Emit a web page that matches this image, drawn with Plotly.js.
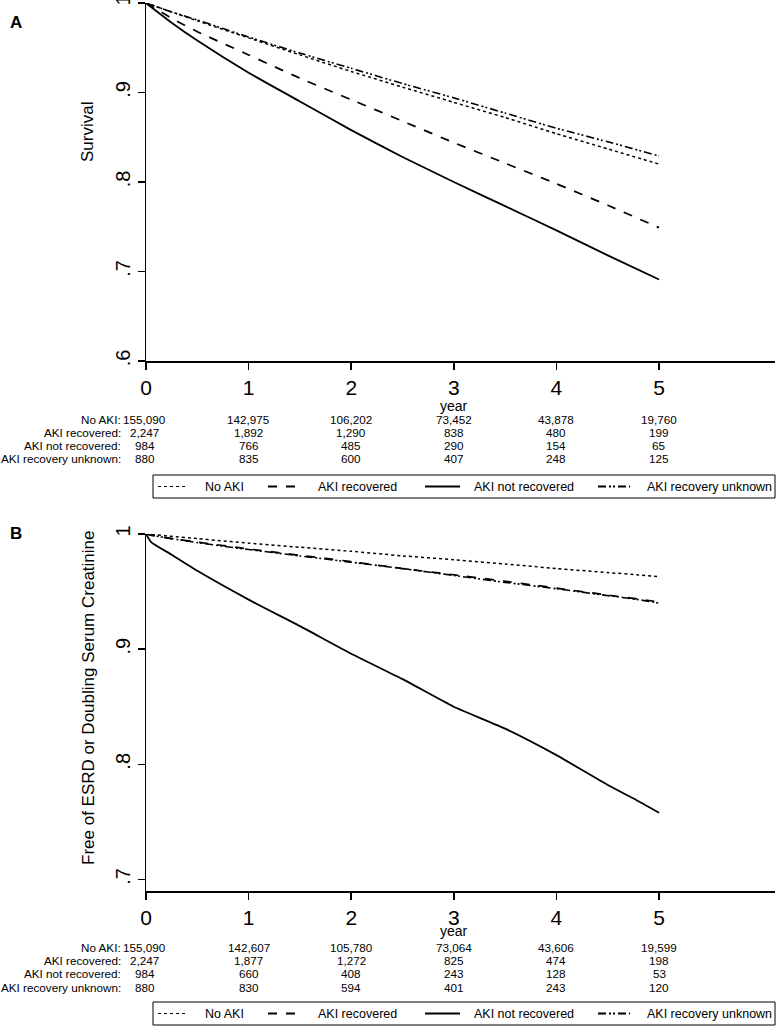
<!DOCTYPE html>
<html>
<head>
<meta charset="utf-8">
<script src="https://cdn.plot.ly/plotly-3.0.1.min.js"></script>
<style>html,body{margin:0;padding:0;background:#fff;}#chart{width:777px;height:1034px;}</style>
</head>
<body>
<div id="chart"></div>
<script>
// ---------- data ----------
const seriesNames = ["No AKI", "AKI recovered", "AKI not recovered", "AKI recovery unknown"];
const riskLabels = ["No AKI:", "AKI recovered:", "AKI not recovered:", "AKI recovery unknown:"];
const yearTicks = [0, 1, 2, 3, 4, 5];

// Panel A: survival
const timeA = [0, 0.25, 0.5, 1, 1.5, 2, 2.5, 3, 3.5, 4, 4.5, 5];
const survNoAKI      = [1, 0.990, 0.980, 0.961, 0.942, 0.9235, 0.906, 0.889, 0.872, 0.854, 0.837, 0.820];
const survRecovered  = [1, 0.983, 0.968, 0.942, 0.916, 0.892, 0.868, 0.844, 0.821, 0.798, 0.774, 0.749];
const survNotRecov   = [1, 0.978, 0.958, 0.922, 0.890, 0.858, 0.828, 0.800, 0.773, 0.746, 0.718, 0.691];
const survUnknown    = [1, 0.990, 0.981, 0.962, 0.944, 0.927, 0.910, 0.894, 0.877, 0.860, 0.845, 0.829];

// Panel B: free of ESRD or doubling serum creatinine
const timeB = [0, 0.05, 0.25, 0.5, 1, 1.5, 2, 2.5, 3, 3.5, 4, 4.5, 4.8, 5];
const freeNoAKI      = [1, 0.9996, 0.998, 0.996, 0.992, 0.9885, 0.985, 0.981, 0.9777, 0.974, 0.970, 0.9665, 0.9645, 0.963];
const freeRecovered  = [1, 0.999, 0.996, 0.993, 0.987, 0.9815, 0.976, 0.970, 0.9646, 0.959, 0.953, 0.947, 0.9435, 0.941];
const freeNotRecov   = [1, 0.993, 0.982, 0.968, 0.943, 0.920, 0.896, 0.874, 0.850, 0.831, 0.808, 0.782, 0.768, 0.758];
const freeUnknown    = [1, 0.999, 0.996, 0.9925, 0.9865, 0.981, 0.9755, 0.970, 0.964, 0.958, 0.9525, 0.9465, 0.943, 0.940];

// Numbers at risk
const riskA_noAKI   = [155090, 142975, 106202, 73452, 43878, 19760];
const riskA_rec     = [2247, 1892, 1290, 838, 480, 199];
const riskA_notrec  = [984, 766, 485, 290, 154, 65];
const riskA_unk     = [880, 835, 600, 407, 248, 125];
const riskB_noAKI   = [155090, 142607, 105780, 73064, 43606, 19599];
const riskB_rec     = [2247, 1877, 1272, 825, 474, 198];
const riskB_notrec  = [984, 660, 408, 243, 128, 53];
const riskB_unk     = [880, 830, 594, 401, 243, 120];

const yTicksA = [0.6, 0.7, 0.8, 0.9, 1];
const yTextA  = [".6", ".7", ".8", ".9", "1"];
const yTicksB = [0.7, 0.8, 0.9, 1];
const yTextB  = [".7", ".8", ".9", "1"];

// ---------- styling ----------
const W = 777, H = 1034;
const dashes = ["dot", "dash", "solid", "8px,3px,2px,2px,2px,3px"];
const widths = [1.5, 1.7, 1.8, 1.6];
const FONT = "Liberation Sans, Arial, sans-serif";
const SMALL = 11.7;
const px = p => p / W;
const py = p => 1 - p / H;

const traces = [];
const seriesA = [survNoAKI, survRecovered, survNotRecov, survUnknown];
const seriesB = [freeNoAKI, freeRecovered, freeNotRecov, freeUnknown];
seriesA.forEach((ys, i) => traces.push({
  x: timeA, y: ys, xaxis: "x", yaxis: "y", mode: "lines", name: seriesNames[i],
  line: {color: "#000", width: widths[i], dash: dashes[i], shape: "spline", smoothing: 0.5},
  showlegend: false, hoverinfo: "skip"
}));
seriesB.forEach((ys, i) => traces.push({
  x: timeB, y: ys, xaxis: "x2", yaxis: "y2", mode: "lines", name: seriesNames[i],
  line: {color: "#000", width: widths[i], dash: dashes[i], shape: "spline", smoothing: 0.5},
  showlegend: false, hoverinfo: "skip"
}));

const xDomain = [px(146), px(775)];
const xRange = [0, 6.13];
const axisCommon = {
  showline: true, linecolor: "#000", linewidth: 1.5, ticks: "outside", ticklen: 7,
  tickwidth: 1.5, tickcolor: "#000", showgrid: false, zeroline: false, fixedrange: true,
  ticklabeloverflow: "allow"
};
const xCommon = Object.assign({}, axisCommon, {
  domain: xDomain, range: xRange, tickvals: yearTicks, ticktext: yearTicks.map(String),
  tickfont: {family: FONT, size: 21, color: "#000"}
});
const yCommon = Object.assign({}, axisCommon, {
  tickangle: -90, tickfont: {family: FONT, size: 20, color: "#000"}
});

const annotations = [];
const shapes = [];
function addText(text, x, xref, yPx, opts) {
  annotations.push(Object.assign({
    text: text, x: x, xref: xref, y: py(yPx), yref: "paper", showarrow: false,
    xanchor: "center", yanchor: "middle", font: {family: FONT, size: SMALL, color: "#000"}
  }, opts || {}));
}

function buildPanel(xref, rows, rowY, yearY, legendTop, letter, letterY, ytitle, ytitleY) {
  addText("<b>" + letter + "</b>", px(8), "paper", letterY, {xanchor: "left", font: {family: FONT, size: 17, color: "#000"}});
  addText(ytitle, px(88), "paper", ytitleY, {textangle: -90, font: {family: FONT, size: 17, color: "#000"}});
  addText("year", 3, xref, yearY, {font: {family: FONT, size: 14, color: "#000"}});
  rows.forEach((vals, r) => {
    addText(riskLabels[r], px(123), "paper", rowY[r], {xanchor: "right"});
    vals.forEach((v, c) => {
      addText(v.toLocaleString("en-US"), yearTicks[c], xref, rowY[r], {xshift: c === 0 ? -1.5 : 0});
    });
  });
  // legend box
  const lb = legendTop, lh = 23, cy = lb + lh / 2;
  shapes.push({type: "rect", xref: "paper", yref: "paper", x0: px(153), x1: px(775), y0: py(lb), y1: py(lb + lh),
    line: {color: "#000", width: 1}, fillcolor: "rgba(0,0,0,0)"});
  const sampleX = [[158, 188], [268, 300], [425, 460], [598, 630]];
  const textX = [203, 316, 472, 645];
  seriesNames.forEach((n, i) => {
    shapes.push({type: "line", xref: "paper", yref: "paper", x0: px(sampleX[i][0]), x1: px(sampleX[i][1]),
      y0: py(cy), y1: py(cy), line: {color: "#000", width: i === 0 ? 1 : 1.8, dash: dashes[i]}});
    addText(n, px(textX[i]), "paper", cy, {xanchor: "left", font: {family: FONT, size: 12.5, color: "#000"}});
  });
}

buildPanel("x", [riskA_noAKI, riskA_rec, riskA_notrec, riskA_unk], [419, 432, 445, 458], 406, 475, "A", 22, "Survival", 132);
buildPanel("x2", [riskB_noAKI, riskB_rec, riskB_notrec, riskB_unk], [947, 960, 973, 987], 931, 1002, "B", 533, "Free of ESRD or Doubling Serum Creatinine", 698);

const layout = {
  width: W, height: H, margin: {l: 0, r: 0, t: 0, b: 0},
  paper_bgcolor: "#fff", plot_bgcolor: "#fff", showlegend: false,
  xaxis: Object.assign({}, xCommon, {anchor: "y"}),
  yaxis: Object.assign({}, yCommon, {domain: [py(361), py(3)], range: [0.6, 1.0], tickvals: yTicksA, ticktext: yTextA, anchor: "x"}),
  xaxis2: Object.assign({}, xCommon, {anchor: "y2"}),
  yaxis2: Object.assign({}, yCommon, {domain: [py(891), py(534)], range: [0.69, 1.0], tickvals: yTicksB, ticktext: yTextB, anchor: "x2"}),
  annotations: annotations, shapes: shapes
};

Plotly.newPlot("chart", traces, layout, {displayModeBar: false, staticPlot: true});
</script>
</body>
</html>
